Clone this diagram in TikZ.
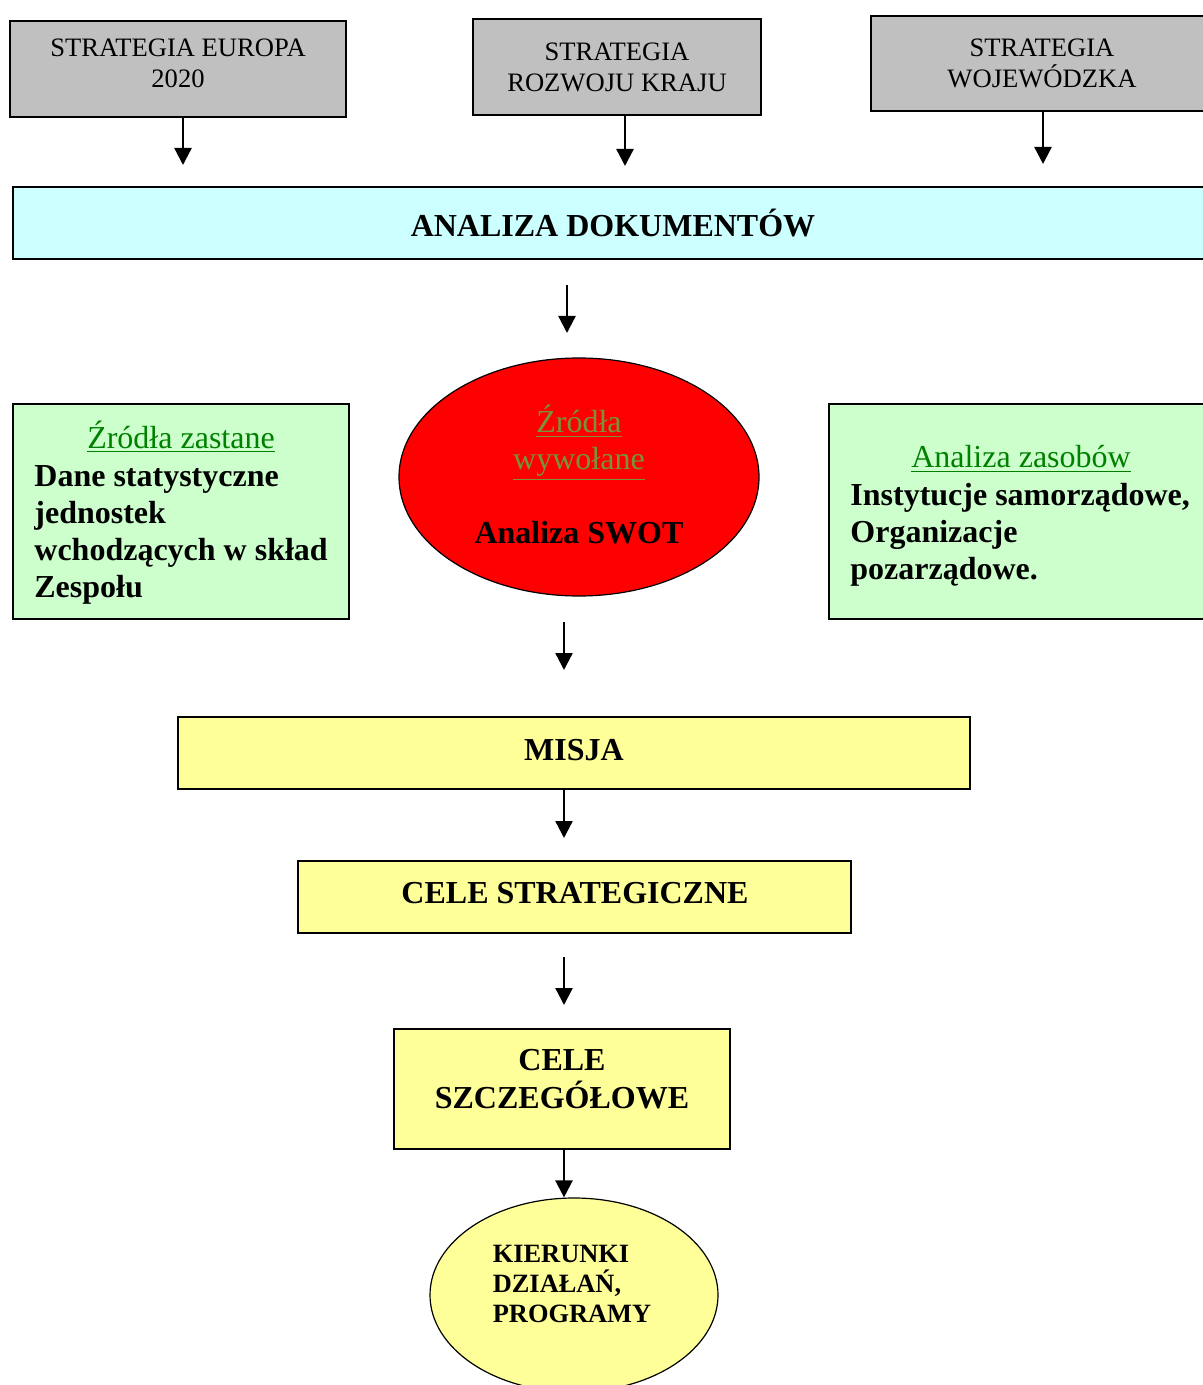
\documentclass[tikz,border=0pt]{standalone}
\usepackage{fontspec}
\setmainfont{Liberation Serif}
\usepackage{tikz}
\usetikzlibrary{shapes,positioning,fit,arrows.meta}
\definecolor{topgray}{HTML}{C0C0C0}
\definecolor{doccyan}{HTML}{CCFFFF}
\definecolor{srcgreen}{HTML}{CCFFCC}
\definecolor{goalyellow}{HTML}{FFFF99}
\definecolor{swotred}{HTML}{FF0000}
\definecolor{titlegreen}{HTML}{008000}
\definecolor{titleolive}{HTML}{77933C}
\newcommand{\topfont}{\fontsize{13.3}{15.5}\selectfont}
\newcommand{\mainfont}{\fontsize{16}{18.5}\selectfont}
\newcommand{\smallbold}{\fontsize{13.2}{15}\selectfont\bfseries}

\begin{document}
\begin{tikzpicture}[x=0.5pt,y=-0.5pt,
    box/.style={draw,line width=0.6pt,inner sep=0pt,align=center},
    arr/.style={-{Triangle[length=8.5pt,width=8.5pt]},line width=1.2pt}]
          \useasboundingbox (0,0) rectangle (1203,1385);
          \clip (0,0) rectangle (1203,1385);
          \node[box,fill=topgray,minimum width=168pt,minimum height=48pt] (EU) at (178,69) {};
          \node[font=\topfont,align=center,inner sep=0pt] (EUt) at (178,63) {STRATEGIA EUROPA\\2020};
          \node[box,fill=topgray,font=\topfont,minimum width=144pt,minimum height=48pt] (KR) at (617,67) {STRATEGIA\\ROZWOJU KRAJU};
          \node[box,fill=topgray,font=\topfont,minimum width=171pt,minimum height=47.5pt] (WOJ) at (1042,63.5) {STRATEGIA\\WOJEWÓDZKA};
          \node[box,fill=doccyan,font=\mainfont\bfseries,minimum width=600pt,minimum height=36pt] (DOK) at (613,223) {ANALIZA DOKUMENTÓW};
          \node[box,fill=srcgreen,minimum width=168pt,minimum height=107.5pt] (ZZ) at (181,511.5) {};
          \node[font=\mainfont,text=titlegreen] (ZZt) at (181,437) {\underline{Źródła zastane}};
          \node[font=\mainfont\bfseries,align=left,anchor=west,inner sep=0pt] (ZZb) at (34,535) {Dane statystyczne\\jednostek\\wchodzących w skład\\Zespołu};
          \node[box,ellipse,fill=swotred,minimum width=180pt,minimum height=119pt] (SWOT) at (579,477) {};
          \node[font=\mainfont,align=center,inner sep=0pt] (SWOTt) at (579,475) {{\color{titleolive}\underline{Źródła}}\\{\color{titleolive}\underline{wywołane}}\\[18.5pt]\textbf{Analiza SWOT}};
          \node[box,fill=srcgreen,minimum width=192pt,minimum height=107.5pt] (ZAS) at (1021,511.5) {};
          \node[font=\mainfont,text=titlegreen] (ZASt) at (1021,459) {\underline{Analiza zasobów}};
          \node[font=\mainfont\bfseries,align=left,anchor=west,inner sep=0pt] (ZASb) at (850,534.5) {Instytucje samorządowe,\\Organizacje\\pozarządowe.};
          \node[box,fill=goalyellow,minimum width=396pt,minimum height=36pt] (MIS) at (574,753) {};
          \node[font=\mainfont\bfseries] (MISt) at (574,750) {MISJA};
          \node[box,fill=goalyellow,minimum width=276.5pt,minimum height=36pt] (CS) at (574.5,897) {};
          \node[font=\mainfont\bfseries] (CSt) at (575,893) {CELE STRATEGICZNE};
          \node[box,fill=goalyellow,minimum width=168pt,minimum height=60pt] (CSZ) at (562,1089) {};
          \node[font=\fontsize{16}{19}\selectfont\bfseries,align=center,inner sep=0pt] (CSZt) at (562,1079) {CELE\\SZCZEGÓŁOWE};
          \node[box,ellipse,fill=goalyellow,minimum width=144pt,minimum height=97pt] (KIER) at (574,1295) {};
          \node[font=\smallbold,align=left,inner sep=0pt] (KIERt) at (572,1284) {KIERUNKI\\DZIAŁAŃ,\\PROGRAMY};
          \coordinate (a1) at (183,165);
          \coordinate (a2) at (625,166);
          \coordinate (a3) at (1043,164);
          \coordinate (b0) at (567,285);
          \coordinate (b1) at (567,333);
          \coordinate (c0) at (564,622);
          \coordinate (c1) at (564,670);
          \coordinate (d1) at (564,838);
          \coordinate (e0) at (564,957);
          \coordinate (e1) at (564,1005);
          \draw[arr] (EU.south -| a1) -- (a1);
          \draw[arr] (KR.south -| a2) -- (a2);
          \draw[arr] (WOJ.south -| a3) -- (a3);
          \draw[arr] (b0) -- (b1);
          \draw[arr] (c0) -- (c1);
          \draw[arr] (MIS.south -| d1) -- (d1);
          \draw[arr] (e0) -- (e1);
          \draw[arr] (CSZ.south -| e1) -- (KIER.north -| e1);
  \end{tikzpicture}
\end{document}
